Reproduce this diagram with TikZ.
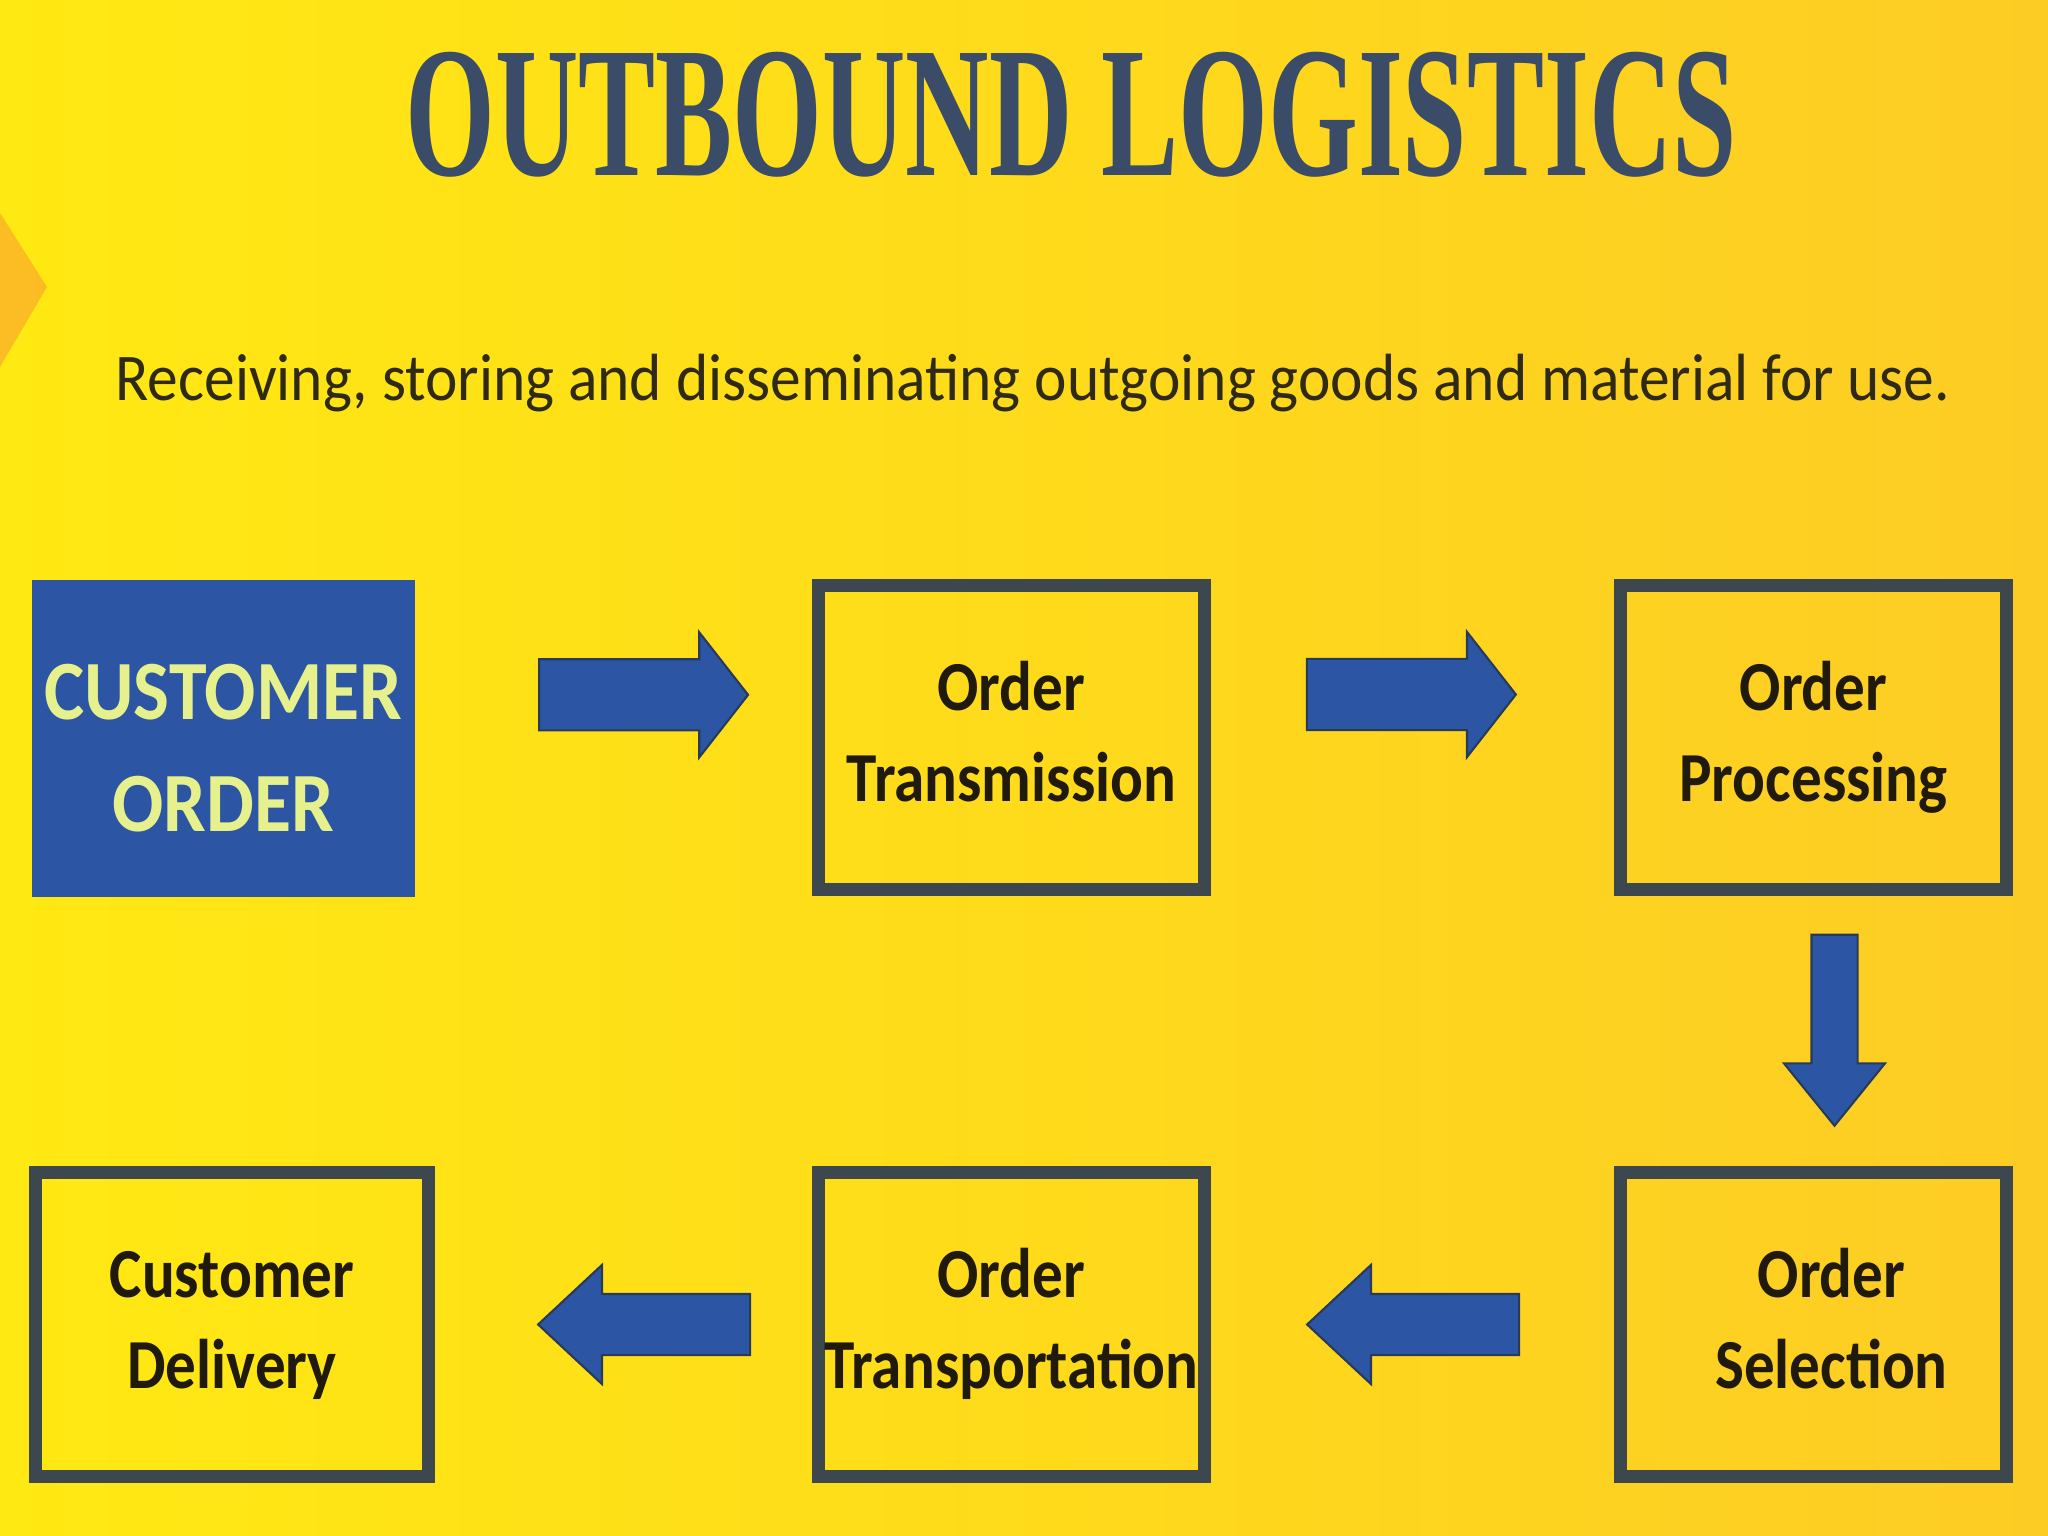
\documentclass[tikz,border=0pt]{standalone}
\usepackage{fontspec}
\usepackage{xcolor}
\usepackage{tikz}
\usetikzlibrary{shapes,calc,positioning}
\setmainfont{Carlito}
\newfontfamily\titlefont[FakeStretch=0.62]{Liberation Serif}
\newfontfamily\subfont[FakeStretch=0.92]{Carlito}
\newfontfamily\boxfont[FakeStretch=0.87]{Carlito}
\newfontfamily\startfont[FakeStretch=0.9]{Carlito}

\definecolor{bgleft}{RGB}{255,233,18}
\definecolor{bgright}{RGB}{253,204,36}
\definecolor{titleblue}{RGB}{58,76,104}
\definecolor{subtext}{RGB}{47,42,22}
\definecolor{boxline}{RGB}{60,72,78}
\definecolor{boxtext}{RGB}{32,26,12}
\definecolor{arrowblue}{RGB}{44,85,163}
\definecolor{arrowline}{RGB}{40,58,92}
\definecolor{ordertext}{RGB}{230,240,140}
\definecolor{chevron}{RGB}{250,178,40}

\tikzset{
  stepbox/.style={draw=boxline, line width=0.13cm, minimum width=3.86cm, minimum height=3.04cm, inner sep=0pt, align=center, text=boxtext, font=\boxfont\bfseries\fontsize{20}{26}\selectfont},
  startbox/.style={fill=arrowblue, minimum width=3.83cm, minimum height=3.17cm, inner sep=0pt, align=center, text=ordertext, font=\startfont\bfseries\fontsize{24}{32}\selectfont},
  blockarrow/.style={single arrow, draw=arrowline, line width=0.6pt, fill=arrowblue, inner xsep=0pt},
  rarrow/.style={blockarrow, minimum height=2.09cm, inner ysep=0.345cm, single arrow head extend=0.27cm, single arrow tip angle=104},
  darrow/.style={blockarrow, rotate=-90, minimum height=1.91cm, inner ysep=0.22cm, single arrow head extend=0.275cm, single arrow tip angle=78},
  larrow/.style={blockarrow, rotate=180, minimum height=2.12cm, inner ysep=0.295cm, single arrow head extend=0.29cm, single arrow tip angle=86}
}

\begin{document}
\begin{tikzpicture}

\useasboundingbox (0,0) rectangle (20.48,-15.36);
\shade[left color=bgleft, right color=bgright] (0,0) rectangle (20.48,-15.36);
\fill[chevron, opacity=0.8] (0,-2.13) -- (0.47,-2.87) -- (0,-3.67) -- cycle;

\coordinate(O1) at (0,0);
\node[anchor=base, text=titleblue, font=\titlefont\bfseries\fontsize{53}{60}\selectfont](title) at (10.71,-1.76) {OUTBOUND LOGISTICS};
\node[anchor=base, text=subtext, font=\subfont\fontsize{19}{22}\selectfont](sub) at (10.33,-4.01) {Receiving, storing and disseminating outgoing goods and material for use.};

\node[below right=5.79cm and 0.31cm of O1,startbox](co) {\rule{0pt}{21.5pt}CUSTOMER\\ORDER};
\node[below right=5.79cm and 8.12cm of O1,stepbox](ot) {\strut Order\\\strut Transmission};
\node[below right=5.79cm and 16.14cm of O1,stepbox](op) {\strut Order\\\strut Processing};

\node[below right=11.66cm and 16.14cm of O1,stepbox](os) {\hspace*{0.36cm}\strut Order\\\hspace*{0.36cm}\strut Selection};
\node[below right=11.66cm and 8.12cm of O1,stepbox](otr) {\strut Order\\\strut Transportation};
\node[below right=11.66cm and 0.29cm of O1,stepbox, minimum width=3.93cm](cd) {\strut Customer\\\strut Delivery};

\path (co) -- node[xshift=0.16cm, yshift=0.43cm, rarrow](a1) {} (ot);
\path (ot) -- node[xshift=-0.15cm, yshift=0.43cm, rarrow](a2) {} (op);
\path (op) -- node[xshift=0.21cm, yshift=0.15cm, darrow](a3) {} (os);
\path (os) -- node[xshift=0.17cm, larrow](a4) {} (otr);
\path (otr) -- node[xshift=0.37cm, larrow](a5) {} (cd);
\end{tikzpicture}
\end{document}
